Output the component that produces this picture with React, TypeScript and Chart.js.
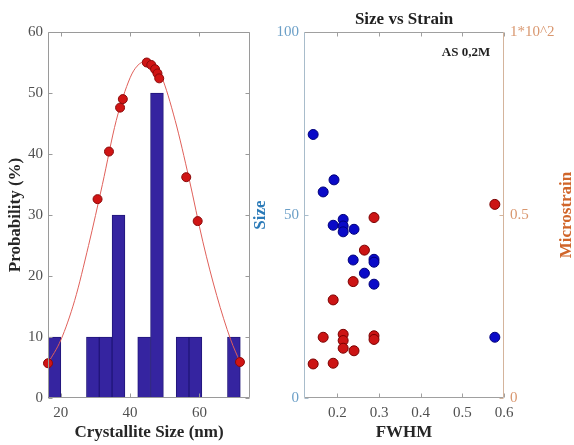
import React, { useEffect, useRef } from "react";
import { Chart, registerables } from "chart.js";
Chart.register(...registerables);

const SERIF = '"Liberation Serif", "Times New Roman", serif';

// ---------- Left panel: crystallite size histogram ----------
const binCenters = [18.15, 29.25, 32.95, 36.65, 44.05, 47.75, 55.15, 58.85, 69.95];
const binProb = [10, 10, 10, 30, 10, 50, 10, 10, 10];
const sizePtsX = [16.3, 30.6, 33.9, 37.1, 37.9, 44.8, 46.1, 47.2, 47.9, 48.4, 56.2, 59.5, 71.7];
const sizePtsY = [5.7, 32.6, 40.4, 47.6, 49.0, 55.0, 54.6, 53.9, 53.2, 52.4, 36.2, 29.0, 5.9];
const fitX = [16.3, 20, 24, 28, 32, 36, 40, 42, 44.5, 47, 49, 53, 57, 61, 65, 69, 71.7];
const fitY = [5.7, 9.5, 16, 25, 35, 45.5, 52.5, 54.4, 55.2, 54.5, 52.8, 45.5, 36, 25.6, 16.8, 9.6, 5.9];
const leftXTicks = [20, 40, 60];
const leftYTicks = [0, 10, 20, 30, 40, 50, 60];

// ---------- Right panel: size vs strain ----------
const fwhmSize = [0.142, 0.192, 0.166, 0.19, 0.214, 0.214, 0.214, 0.24, 0.238, 0.288, 0.288, 0.265, 0.288, 0.578];
const sizeVals = [72.0, 59.6, 56.3, 47.2, 48.8, 47.0, 45.4, 46.1, 37.7, 37.9, 37.1, 34.1, 31.1, 16.6];
const fwhmStrain = [0.578, 0.288, 0.265, 0.238, 0.19, 0.166, 0.214, 0.214, 0.214, 0.24, 0.288, 0.288, 0.142, 0.19];
const strainVals = [0.529, 0.493, 0.404, 0.318, 0.268, 0.166, 0.174, 0.157, 0.136, 0.129, 0.17, 0.16, 0.093, 0.095];
const rightXTicks = [0.2, 0.3, 0.4, 0.5, 0.6];
const sizeTicks = [0, 50, 100];
const strainTicks = [0, 0.5, 1];
const strainTickLabels = ["0", "0.5", "1*10^2"];

const TICK_SIZE = 15;
const TITLE_SIZE = 17;

const font = (size: number, weight: string = "normal") => ({ family: SERIF, size, weight: weight as any });

function makeBoxPlugin(cfg: {
  top: string; bottom: string; left: string; right: string;
  leftScale: string; rightScale: string; tick: number;
}) {
  return {
    id: "matlabBox",
    afterDatasetsDraw(chart: any) {
      const { ctx, chartArea: a, scales } = chart;
      const L = Math.round(a.left) + 0.5;
      const R = Math.round(a.right) - 0.5;
      const T = Math.round(a.top) + 0.5;
      const B = Math.round(a.bottom) - 0.5;
      ctx.save();
      ctx.lineWidth = 1;
      const line = (x1: number, y1: number, x2: number, y2: number, c: string) => {
        ctx.strokeStyle = c;
        ctx.beginPath();
        ctx.moveTo(x1, y1);
        ctx.lineTo(x2, y2);
        ctx.stroke();
      };
      const len = cfg.tick;
      for (const t of scales.x.ticks) {
        const px = Math.round(scales.x.getPixelForValue(t.value)) + 0.5;
        line(px, B, px, B - len, cfg.bottom);
        line(px, T, px, T + len, cfg.top);
      }
      for (const t of scales[cfg.leftScale].ticks) {
        const py = Math.round(scales[cfg.leftScale].getPixelForValue(t.value)) + 0.5;
        line(L, py, L + len, py, cfg.left);
      }
      for (const t of scales[cfg.rightScale].ticks) {
        const py = Math.round(scales[cfg.rightScale].getPixelForValue(t.value)) + 0.5;
        line(R, py, R - len, py, cfg.right);
      }
      line(L, T, R, T, cfg.top);
      line(L, B, R, B, cfg.bottom);
      line(L, T, L, B, cfg.left);
      line(R, T, R, B, cfg.right);
      ctx.restore();
    },
  };
}

const rightTextPlugin = {
  id: "rightTexts",
  afterDraw(chart: any) {
    const { ctx, chartArea: a } = chart;
    ctx.save();
    ctx.textAlign = "center";
    ctx.textBaseline = "middle";
    ctx.fillStyle = "#1f1f1f";
    ctx.font = `bold ${TITLE_SIZE}px ${SERIF}`;
    ctx.fillText("Size vs Strain", (a.left + a.right) / 2, a.top - 12);
    ctx.font = `bold 13px ${SERIF}`;
    ctx.fillText("AS 0,2M", a.right - 38, a.top + 21);
    ctx.translate(a.right + 63, (a.top + a.bottom) / 2);
    ctx.rotate(-Math.PI / 2);
    ctx.fillStyle = "#d0652a";
    ctx.font = `bold ${TITLE_SIZE}px ${SERIF}`;
    ctx.fillText("Microstrain", 0, 0);
    ctx.restore();
  },
};

function leftConfig(): any {
  return {
    type: "bar",
    data: {
      datasets: [
        {
          type: "scatter",
          data: sizePtsX.map((x, i) => ({ x, y: sizePtsY[i] })),
          pointRadius: 4.5,
          backgroundColor: "#d01414",
          borderColor: "#8a0a0a",
          borderWidth: 1,
          clip: false,
          order: 0,
        },
        {
          type: "line",
          data: fitX.map((x, i) => ({ x, y: fitY[i] })),
          borderColor: "#e0605a",
          borderWidth: 1,
          pointRadius: 0,
          cubicInterpolationMode: "monotone",
          fill: false,
          order: 1,
        },
        {
          type: "bar",
          data: binCenters.map((x, i) => ({ x, y: binProb[i] })),
          backgroundColor: "#3524a0",
          borderColor: "#21167a",
          borderWidth: 1,
          borderSkipped: false,
          barPercentage: 1,
          categoryPercentage: 1,
          order: 2,
        },
      ],
    },
    options: {
      responsive: false,
      animation: false,
      layout: { padding: { top: 32, right: 20, left: 0, bottom: 0 } },
      scales: {
        x: {
          type: "linear",
          min: 16.3,
          max: 74.6,
          offset: false,
          grid: { display: false, drawTicks: false },
          border: { display: false },
          ticks: { font: font(TICK_SIZE), color: "#505050", padding: 6, maxRotation: 0, callback: (v: any) => String(v) },
          afterBuildTicks: (s: any) => { s.ticks = leftXTicks.map((v) => ({ value: v })); },
          afterFit: (s: any) => { s.height = 47; },
          title: { display: true, text: "Crystallite Size (nm)", font: font(TITLE_SIZE, "bold"), color: "#262626", padding: { top: 0, bottom: 2 } },
        },
        y: {
          type: "linear",
          min: 0,
          max: 60,
          grid: { display: false, drawTicks: false },
          border: { display: false },
          ticks: { font: font(TICK_SIZE), color: "#505050", padding: 5, callback: (v: any) => String(v) },
          afterBuildTicks: (s: any) => { s.ticks = leftYTicks.map((v) => ({ value: v })); },
          afterFit: (s: any) => { s.width = 48; },
          title: { display: true, text: "Probability (%)", font: font(TITLE_SIZE, "bold"), color: "#262626", padding: { top: 5, bottom: 0 } },
        },
      },
      plugins: { legend: { display: false }, tooltip: { enabled: false } },
    },
    plugins: [
      makeBoxPlugin({ top: "#9a9a9a", bottom: "#9a9a9a", left: "#9a9a9a", right: "#9a9a9a", leftScale: "y", rightScale: "y", tick: 4 }),
    ],
  };
}

function rightConfig(): any {
  return {
    type: "scatter",
    data: {
      datasets: [
        {
          label: "Size",
          data: fwhmSize.map((x, i) => ({ x, y: sizeVals[i] })),
          yAxisID: "y",
          backgroundColor: "#0a0ac8",
          borderColor: "#00007a",
          borderWidth: 1,
          pointRadius: 5,
          clip: false,
        },
        {
          label: "Microstrain",
          data: fwhmStrain.map((x, i) => ({ x, y: strainVals[i] })),
          yAxisID: "y2",
          backgroundColor: "#cc1414",
          borderColor: "#7a0000",
          borderWidth: 1,
          pointRadius: 5,
          clip: false,
        },
      ],
    },
    options: {
      responsive: false,
      animation: false,
      layout: { padding: { top: 32, right: 0, left: 0, bottom: 0 } },
      scales: {
        x: {
          type: "linear",
          min: 0.12,
          max: 0.6,
          grid: { display: false, drawTicks: false },
          border: { display: false },
          ticks: { font: font(TICK_SIZE), color: "#505050", padding: 6, maxRotation: 0, callback: (v: any) => String(v) },
          afterBuildTicks: (s: any) => { s.ticks = rightXTicks.map((v) => ({ value: v })); },
          afterFit: (s: any) => { s.height = 47; },
          title: { display: true, text: "FWHM", font: font(TITLE_SIZE, "bold"), color: "#262626", padding: { top: 0, bottom: 2 } },
        },
        y: {
          type: "linear",
          position: "left",
          min: 0,
          max: 100,
          grid: { display: false, drawTicks: false },
          border: { display: false },
          ticks: { font: font(TICK_SIZE), color: "#6b9fc7", padding: 5, callback: (v: any) => String(v) },
          afterBuildTicks: (s: any) => { s.ticks = sizeTicks.map((v) => ({ value: v })); },
          afterFit: (s: any) => { s.width = 54; },
          title: { display: true, text: "Size", font: font(TITLE_SIZE, "bold"), color: "#2a7ab8", padding: { top: 0, bottom: 0 } },
        },
        y2: {
          type: "linear",
          position: "right",
          min: 0,
          max: 1,
          grid: { display: false, drawTicks: false },
          border: { display: false },
          ticks: {
            font: font(TICK_SIZE),
            color: "#d9976f",
            padding: 6,
            callback: (v: any) => {
              const i = strainTicks.indexOf(Number(v));
              return i >= 0 ? strainTickLabels[i] : String(v);
            },
          },
          afterBuildTicks: (s: any) => { s.ticks = strainTicks.map((v) => ({ value: v })); },
          afterFit: (s: any) => { s.width = 70; },
        },
      },
      plugins: { legend: { display: false }, tooltip: { enabled: false } },
    },
    plugins: [
      makeBoxPlugin({ top: "#a0a0a0", bottom: "#a0a0a0", left: "#a8bccb", right: "#d4b49c", leftScale: "y", rightScale: "y2", tick: 4 }),
      rightTextPlugin,
    ],
  };
}

export default function App() {
  const leftRef = useRef<HTMLCanvasElement>(null);
  const rightRef = useRef<HTMLCanvasElement>(null);
  useEffect(() => {
    const c1 = new Chart(leftRef.current as HTMLCanvasElement, leftConfig());
    const c2 = new Chart(rightRef.current as HTMLCanvasElement, rightConfig());
    return () => {
      c1.destroy();
      c2.destroy();
    };
  }, []);
  return (
    <div style={{ position: "absolute", left: 0, top: 0, width: 574, height: 445, background: "#fff", overflow: "hidden" }}>
      <canvas ref={leftRef} width={270} height={445} style={{ position: "absolute", left: 0, top: 0, width: 270, height: 445 }} />
      <canvas ref={rightRef} width={324} height={445} style={{ position: "absolute", left: 250, top: 0, width: 324, height: 445 }} />
    </div>
  );
}
